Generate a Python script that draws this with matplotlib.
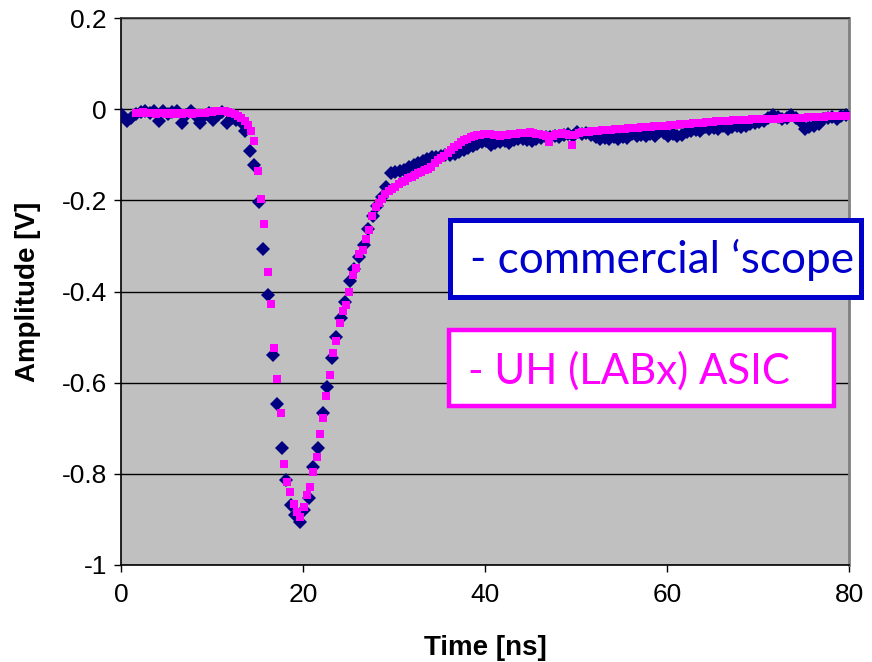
import numpy as np
import matplotlib
matplotlib.use("Agg")
import matplotlib.pyplot as plt
from matplotlib.patches import Rectangle
from matplotlib.ticker import FuncFormatter

plt.rcParams["font.family"] = ["Liberation Sans", "DejaVu Sans"]
plt.rcParams["axes.unicode_minus"] = False

# Commercial oscilloscope trace: 0.5 ns sampling
scope_t0, scope_dt = 0.15, 0.5
scope_v = [
    -0.013, -0.027, -0.020, -0.010, -0.006, -0.005, -0.008, -0.005, -0.025, -0.005,
    -0.010, -0.007, -0.005, -0.031, -0.012, -0.005, -0.012, -0.031, -0.015, -0.008,
    -0.024, -0.012, -0.007, -0.031, -0.020, -0.024,
    -0.028, -0.048, -0.092, -0.122, -0.203, -0.307, -0.408, -0.539, -0.647, -0.744,
    -0.813, -0.868, -0.890, -0.905, -0.879, -0.854, -0.784, -0.744, -0.667, -0.609,
    -0.546, -0.499, -0.459, -0.422, -0.378, -0.350, -0.324, -0.298, -0.263, -0.235,
    -0.212, -0.192, -0.170,
    -0.140, -0.138, -0.136, -0.133, -0.126, -0.122, -0.118, -0.113, -0.110, -0.106,
    -0.104, -0.102, -0.101, -0.100, -0.098, -0.094, -0.090, -0.085, -0.080, -0.076,
    -0.073, -0.070, -0.078, -0.075, -0.072, -0.070, -0.075, -0.068, -0.066, -0.065,
    -0.068, -0.070,
    -0.066, -0.064, -0.060, -0.062, -0.058, -0.060, -0.057, -0.055, -0.058, -0.050,
    -0.055, -0.052, -0.056, -0.060, -0.066, -0.064, -0.066, -0.062, -0.065, -0.060,
    -0.063, -0.055, -0.059, -0.057, -0.059, -0.054, -0.058, -0.050, -0.052, -0.058,
    -0.055, -0.059, -0.056, -0.050, -0.048, -0.046, -0.048, -0.040, -0.044, -0.042,
    -0.044, -0.038, -0.043, -0.040, -0.036, -0.040, -0.037, -0.033, -0.030, -0.028,
    -0.025, -0.020, -0.012, -0.018, -0.022, -0.019, -0.012, -0.020, -0.026, -0.044,
    -0.040, -0.036, -0.032, -0.022, -0.020, -0.018, -0.021, -0.015, -0.012,
]

# UH (LABx) ASIC trace: 0.36 ns sampling
labx_t0, labx_dt = 1.70, 0.36
labx_v = [
    -0.008, -0.008, -0.006, -0.008, -0.009, -0.008, -0.010, -0.009, -0.008, -0.010,
    -0.009, -0.010, -0.008, -0.009, -0.010, -0.009, -0.008, -0.010, -0.009, -0.008,
    -0.009, -0.008,
    -0.007, -0.006, -0.005, -0.004, -0.003, -0.004, -0.006, -0.009, -0.011, -0.015,
    -0.020, -0.027, -0.034, -0.047,
    -0.069, -0.135, -0.198, -0.252, -0.358, -0.427, -0.523, -0.592, -0.667, -0.779,
    -0.819, -0.839, -0.866, -0.884, -0.894, -0.873, -0.846, -0.828, -0.795, -0.762,
    -0.712, -0.678, -0.629, -0.583, -0.534, -0.508, -0.470, -0.443, -0.430, -0.401,
    -0.364, -0.349, -0.318, -0.309, -0.285, -0.265, -0.234, -0.214,
    -0.205, -0.197, -0.186, -0.179, -0.175, -0.170, -0.165, -0.160, -0.157, -0.152,
    -0.148, -0.144, -0.140, -0.137, -0.134, -0.131, -0.127, -0.118, -0.112, -0.107,
    -0.102, -0.096, -0.090, -0.084, -0.078, -0.073, -0.068, -0.065, -0.062, -0.059,
    -0.057, -0.056, -0.055, -0.055,
    -0.055, -0.056, -0.057, -0.058, -0.057, -0.056, -0.055, -0.055, -0.054, -0.053,
    -0.052, -0.052, -0.051, -0.053, -0.054, -0.055, -0.056, -0.058, -0.072, -0.058,
    -0.055, -0.054, -0.053, -0.055, -0.057, -0.078, -0.056, -0.053, -0.051, -0.050,
    -0.049, -0.048, -0.048, -0.047, -0.046, -0.046, -0.045, -0.045, -0.044, -0.044,
    -0.043, -0.043, -0.042, -0.042, -0.041, -0.041, -0.040, -0.040, -0.039, -0.039,
    -0.038, -0.038, -0.037, -0.036, -0.036, -0.035, -0.035, -0.034, -0.033, -0.033,
    -0.032, -0.032, -0.031, -0.031, -0.030, -0.030, -0.029, -0.028, -0.028, -0.027,
    -0.026, -0.026, -0.025, -0.025, -0.024, -0.024, -0.024, -0.023, -0.023, -0.023,
    -0.022, -0.022, -0.022, -0.022, -0.021, -0.021, -0.021, -0.021, -0.021, -0.020,
    -0.020, -0.020, -0.020, -0.020, -0.019, -0.019, -0.019, -0.018, -0.018, -0.018,
    -0.017, -0.017, -0.017, -0.016, -0.016, -0.016, -0.015, -0.015, -0.015, -0.016,
]

x_ticks = [0, 20, 40, 60, 80]
y_ticks = [-1.0, -0.8, -0.6, -0.4, -0.2, 0.0, 0.2]
legend_labels = ["- commercial \u2018scope", "- UH (LABx) ASIC"]

scope_t = scope_t0 + scope_dt * np.arange(len(scope_v))
labx_t = labx_t0 + labx_dt * np.arange(len(labx_v))

W, H = 872, 662
fig = plt.figure(figsize=(W / 100, H / 100), dpi=100)
ax = fig.add_axes([121 / W, 1 - 565 / H, 728 / W, 547 / H])
ax.set_facecolor("#C0C0C0")

ax.plot(scope_t, scope_v, linestyle="none", marker="D", markersize=6.8,
        markeredgewidth=0, color="#000080", zorder=3)
ax.plot(labx_t, labx_v, linestyle="none", marker="s", markersize=6.0,
        markeredgewidth=0, color="#FF00FF", zorder=4)

ax.set_xlim(0, 80)
ax.set_ylim(-1.0, 0.2)
ax.set_xticks(x_ticks)
ax.set_yticks(y_ticks)
ax.yaxis.set_major_formatter(FuncFormatter(lambda v, p: f"{v:g}" if abs(v) > 1e-9 else "0"))
ax.xaxis.set_major_formatter(FuncFormatter(lambda v, p: f"{v:g}"))
ax.tick_params(axis="both", direction="out", length=5, width=1, color="black",
               labelsize=19)
ax.tick_params(axis="y", pad=5)
ax.tick_params(axis="x", pad=8)
ax.yaxis.grid(True, color="black", linewidth=1.0)
ax.set_axisbelow(True)

for side in ("left", "bottom"):
    ax.spines[side].set_color("black")
    ax.spines[side].set_linewidth(1.2)
ax.spines["top"].set_color("#303030")
ax.spines["top"].set_linewidth(1.2)
ax.spines["right"].set_color("#808080")
ax.spines["right"].set_linewidth(2)

ax.set_xlabel("Time [ns]", fontsize=20, fontweight="bold", va="center")
ax.set_ylabel("Amplitude [V]", fontsize=20, fontweight="bold", va="center")
ax.xaxis.set_label_coords(0.5, (565 - 648) / 547)
ax.yaxis.set_label_coords((28 - 121) / 728, 0.5)


def px_rect(x0, y0, x1, y1, color, lw):
    fig.patches.append(Rectangle((x0 / W, 1 - y1 / H), (x1 - x0) / W, (y1 - y0) / H,
                                 transform=fig.transFigure, facecolor="white",
                                 edgecolor=color, linewidth=lw, zorder=5))


px_rect(449.5, 219.5, 860.5, 296.5, "#0000CC", 3.6)
px_rect(448.5, 329.5, 834, 406, "#FF00FF", 3.2)

fig.text(470 / W, 1 - 273 / H, legend_labels[0], color="#0000CC", fontsize=31.8,
         family=["Lato", "DejaVu Sans"], va="baseline", ha="left", zorder=6)
fig.text(468 / W, 1 - 384 / H, legend_labels[1], color="#FF00FF", fontsize=30.2,
         family=["Lato", "DejaVu Sans"], va="baseline", ha="left", zorder=6)

fig.savefig("out.png", dpi=100, facecolor="white")
